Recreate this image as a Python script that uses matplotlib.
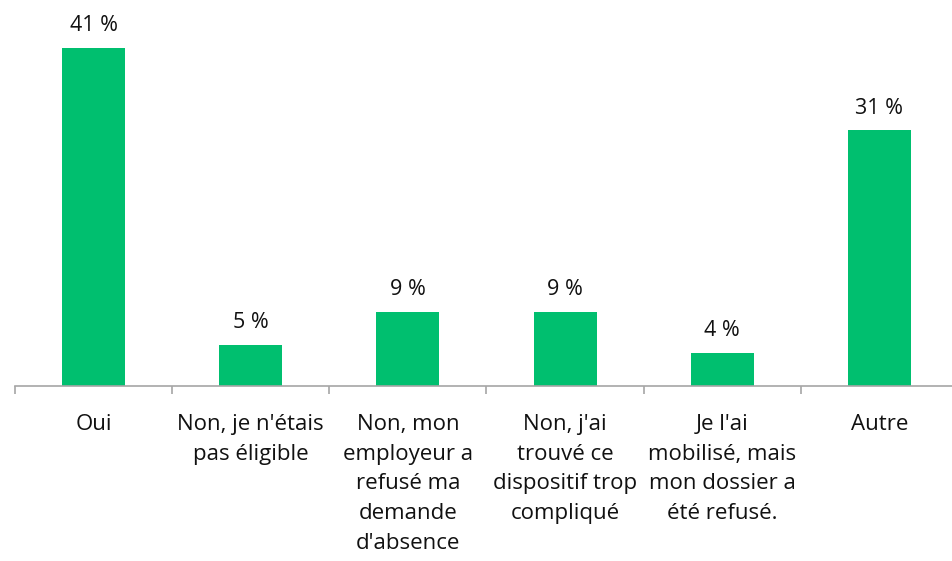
import matplotlib
matplotlib.use("Agg")
import matplotlib.pyplot as plt
import numpy as np

categories = [
    "Oui",
    "Non, je n'étais\npas éligible",
    "Non, mon\nemployeur a\nrefusé ma\ndemande\nd'absence",
    "Non, j'ai\ntrouvé ce\ndispositif trop\ncompliqué",
    "Je l'ai\nmobilisé, mais\nmon dossier a\nété refusé.",
    "Autre",
]
values = [41, 5, 9, 9, 4, 31]
labels = ["41 %", "5 %", "9 %", "9 %", "4 %", "31 %"]

plt.rcParams["font.family"] = ["Open Sans", "DejaVu Sans"]

W, H = 953, 561
fig = plt.figure(figsize=(W / 100, H / 100), dpi=100)
# axis spans x 15..958 px, baseline at y=386 px, top at 15 px
ax = fig.add_axes([15 / W, (H - 386) / H, 943 / W, 371 / H])

x = np.arange(len(values))
bars = ax.bar(x, values, width=0.4, color="#00BF6F")
ax.set_xlim(-0.5, len(values) - 0.5)
ax.set_ylim(0, 45)

for b, lab in zip(bars, labels):
    ax.annotate(lab, (b.get_x() + b.get_width() / 2, b.get_height()),
                xytext=(0, 8.5), textcoords="offset points",
                ha="center", va="bottom", fontsize=15.5, color="#111111")

ax.set_xticks(x)
ax.set_xticklabels(categories, fontsize=16, color="#111111", linespacing=1.55, va="top")
ax.tick_params(axis="x", which="major", length=0, pad=20)
ax.set_xticks(np.arange(-0.5, len(values)), minor=True)
ax.tick_params(axis="x", which="minor", length=6, width=1.2, color="#a6a6a6")
ax.set_yticks([])

for s in ["top", "right", "left"]:
    ax.spines[s].set_visible(False)
ax.spines["bottom"].set_color("#a6a6a6")
ax.spines["bottom"].set_linewidth(1.2)

fig.savefig("out.png", dpi=100)
